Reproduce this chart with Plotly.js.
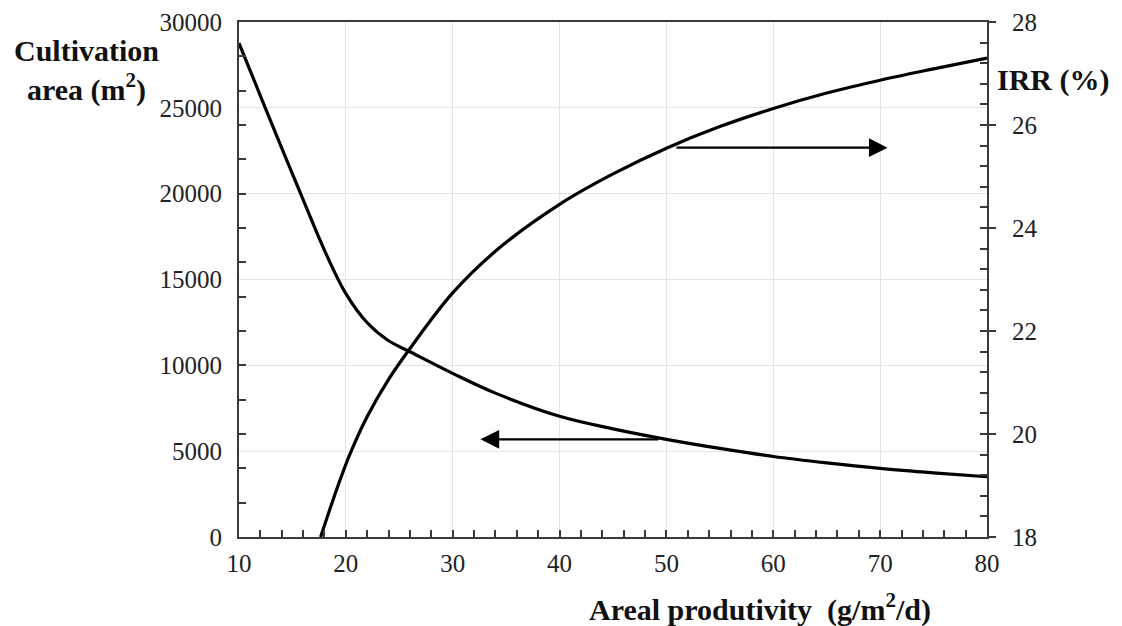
<!DOCTYPE html>
<html>
<head>
<meta charset="utf-8">
<script src="https://cdn.plot.ly/plotly-3.0.1.min.js"></script>
<style>html,body{margin:0;padding:0;background:#fff;}#chart{width:1122px;height:626px;}</style>
</head>
<body>
<div id="chart"></div>
<script>
// Cultivation area (left axis, m2) vs areal productivity
const areaX = [10, 12, 14, 16, 18, 20, 22, 24, 26, 30, 34, 40, 45, 50, 55, 60, 65, 70, 75, 80];
const areaY = [28770, 25700, 22650, 19650, 16700, 14180, 12480, 11430, 10790, 9530, 8380, 7030, 6300, 5690, 5160, 4690, 4320, 4000, 3740, 3510];
// IRR (right axis, %)
const irrX = [17.64, 18.8, 19.8, 20.4, 22.0, 24.0, 26.0, 30.0, 34.4, 40.0, 45.0, 50.0, 55.0, 60.0, 65.0, 70.0, 75.0, 80.0];
const irrY = [18.0, 18.72, 19.3, 19.62, 20.34, 21.06, 21.66, 22.74, 23.62, 24.46, 25.05, 25.55, 25.97, 26.32, 26.62, 26.87, 27.09, 27.3];
// tick labels
const xTicks = [10, 20, 30, 40, 50, 60, 70, 80];
const yTicks = [0, 5000, 10000, 15000, 20000, 25000, 30000];
const yTickText = ['0', '5000', '10000', '15000', '20000', '25000', '30000'];
const y2Ticks = [18, 20, 22, 24, 26, 28];
// arrows: [tipX, tailX, y]
const arrowRight = [70.7, 50.8, 25.56];
const arrowLeft = [32.6, 49.4, 5690];

function range(a, b, s) { const r = []; for (let v = a; v <= b + 1e-9; v += s) r.push(Math.round(v * 100) / 100); return r; }

const serif = 'Liberation Serif, Times New Roman, serif';
const axisCol = '#3a3a3a';
const tickFont = {family: serif, size: 25, color: '#222'};
const titleFont = {family: serif, size: 30, color: '#111'};

const lineStyle = {color: '#000', width: 3.2, shape: 'spline', smoothing: 1};
const traces = [
  {x: areaX, y: areaY, xaxis: 'x', yaxis: 'y', mode: 'lines', line: lineStyle, hoverinfo: 'skip'},
  {x: irrX, y: irrY, xaxis: 'x', yaxis: 'y2', mode: 'lines', line: lineStyle, hoverinfo: 'skip'},
  // invisible helpers so the minor-tick overlay axes get drawn
  {x: [areaX[0]], y: [areaY[0]], xaxis: 'x2', yaxis: 'y3', mode: 'markers', marker: {opacity: 0}, hoverinfo: 'skip'},
  {x: [irrX[0]], y: [irrY[0]], xaxis: 'x2', yaxis: 'y4', mode: 'markers', marker: {opacity: 0}, hoverinfo: 'skip'}
];

const hidden = {showticklabels: false, showgrid: false, showline: false, zeroline: false};
const layout = {
  width: 1122, height: 626,
  margin: {l: 239, r: 135, t: 22, b: 89},
  paper_bgcolor: '#fff', plot_bgcolor: '#fff',
  showlegend: false, hovermode: false,
  xaxis: {range: [10, 80], tickmode: 'array', tickvals: xTicks, ticks: '', showgrid: true, gridcolor: '#e4e4e4', gridwidth: 1,
          showline: true, linecolor: axisCol, linewidth: 2, mirror: true, zeroline: false, tickfont: tickFont, ticklabelstandoff: 3},
  xaxis2: Object.assign({range: [10, 80], overlaying: 'x', anchor: 'y3', side: 'bottom', tickmode: 'array', tickvals: range(10, 80, 2),
           ticks: 'inside', ticklen: 7, tickwidth: 2, tickcolor: axisCol}, hidden),
  yaxis: {range: [0, 30000], tickmode: 'array', tickvals: yTicks, ticktext: yTickText, ticks: '', showgrid: true, gridcolor: '#e4e4e4', gridwidth: 1,
          showline: true, linecolor: axisCol, linewidth: 2, zeroline: false, tickfont: tickFont, ticklabelstandoff: 10},
  yaxis3: Object.assign({range: [0, 30000], overlaying: 'y', anchor: 'x2', side: 'left', tickmode: 'array', tickvals: range(0, 30000, 2000),
           ticks: 'inside', ticklen: 7, tickwidth: 2, tickcolor: axisCol}, hidden),
  yaxis2: {range: [18, 28], overlaying: 'y', anchor: 'x', side: 'right', tickmode: 'array', tickvals: y2Ticks,
           ticks: 'outside', ticklen: 7, tickwidth: 2, tickcolor: axisCol, showgrid: false, showline: true, linecolor: axisCol, linewidth: 2,
           zeroline: false, tickfont: tickFont, ticklabelstandoff: 11},
  yaxis4: Object.assign({range: [18, 28], overlaying: 'y', anchor: 'x2', side: 'right', tickmode: 'array', tickvals: range(18, 28, 0.4),
           ticks: 'inside', ticklen: 7, tickwidth: 2, tickcolor: axisCol}, hidden),
  annotations: [
    {xref: 'paper', yref: 'paper', x: 0, y: 0, xanchor: 'center', yanchor: 'middle', showarrow: false, align: 'center',
     text: '<b>Cultivation<br>area (m<sup>2</sup>)</b>', font: titleFont},
    {xref: 'paper', yref: 'paper', x: 0, y: 0, xanchor: 'left', yanchor: 'middle', showarrow: false,
     text: '<b>IRR (%)</b>', font: titleFont},
    {xref: 'paper', yref: 'paper', x: 0, y: 0, xanchor: 'center', yanchor: 'top', showarrow: false,
     text: '<b>Areal produtivity  (g/m<sup>2</sup>/d)</b>', font: titleFont},
    {xref: 'x', yref: 'y2', axref: 'x', ayref: 'y2', x: arrowRight[0], y: arrowRight[2], ax: arrowRight[1], ay: arrowRight[2],
     text: '', showarrow: true, arrowhead: 2, arrowsize: 1.7, arrowwidth: 2.2, arrowcolor: '#000', standoff: 0, startstandoff: 0},
    {xref: 'x', yref: 'y', axref: 'x', ayref: 'y', x: arrowLeft[0], y: arrowLeft[2], ax: arrowLeft[1], ay: arrowLeft[2],
     text: '', showarrow: true, arrowhead: 2, arrowsize: 1.7, arrowwidth: 2.2, arrowcolor: '#000', standoff: 0, startstandoff: 0}
  ]
};
// title positions in paper coordinates (plot area: x 239..987, y 22..537 px)
const px = v => (v - 239) / (987 - 239);
const py = v => (537 - v) / (537 - 22);
layout.annotations[0].x = px(86);  layout.annotations[0].y = py(70);
layout.annotations[1].x = px(995); layout.annotations[1].y = py(80);
layout.annotations[2].x = px(760); layout.annotations[2].y = py(586);

Plotly.newPlot('chart', traces, layout, {staticPlot: true, displayModeBar: false});
</script>
</body>
</html>
